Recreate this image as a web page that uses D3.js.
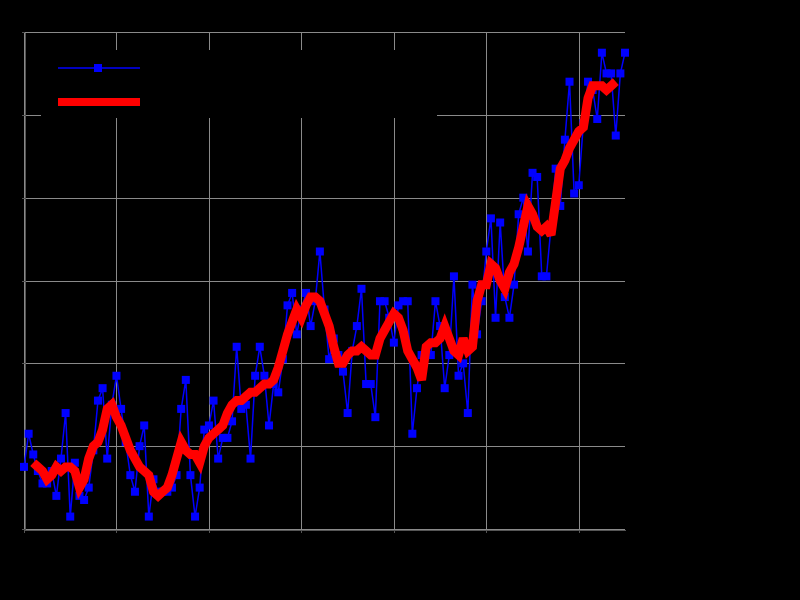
<!DOCTYPE html>
<html>
<head>
<meta charset="utf-8">
<script src="https://cdn.jsdelivr.net/npm/d3@7"></script>
<style>
  html, body { margin: 0; padding: 0; background: #000; }
  svg { display: block; }
</style>
</head>
<body>
<svg id="chart" width="800" height="600"></svg>
<script>
// ---- data ----
const years = [
  1880,1881,1882,1883,1884,1885,1886,1887,1888,1889,
  1890,1891,1892,1893,1894,1895,1896,1897,1898,1899,
  1900,1901,1902,1903,1904,1905,1906,1907,1908,1909,
  1910,1911,1912,1913,1914,1915,1916,1917,1918,1919,
  1920,1921,1922,1923,1924,1925,1926,1927,1928,1929,
  1930,1931,1932,1933,1934,1935,1936,1937,1938,1939,
  1940,1941,1942,1943,1944,1945,1946,1947,1948,1949,
  1950,1951,1952,1953,1954,1955,1956,1957,1958,1959,
  1960,1961,1962,1963,1964,1965,1966,1967,1968,1969,
  1970,1971,1972,1973,1974,1975,1976,1977,1978,1979,
  1980,1981,1982,1983,1984,1985,1986,1987,1988,1989,
  1990,1991,1992,1993,1994,1995,1996,1997,1998,1999,
  2000,2001,2002,2003,2004,2005,2006,2007,2008,2009,2010
];
const annualMean = [
  -0.25,-0.17,-0.22,-0.26,-0.29,-0.29,-0.26,-0.32,-0.23,-0.12,
  -0.37,-0.24,-0.32,-0.33,-0.30,-0.21,-0.09,-0.06,-0.23,-0.10,
  -0.03,-0.11,-0.19,-0.27,-0.31,-0.20,-0.15,-0.37,-0.28,-0.31,
  -0.31,-0.31,-0.30,-0.27,-0.11,-0.04,-0.27,-0.37,-0.30,-0.16,
  -0.15,-0.09,-0.23,-0.18,-0.18,-0.14,0.04,-0.11,-0.10,-0.23,
  -0.03,0.04,-0.03,-0.15,-0.05,-0.07,0.01,0.14,0.17,0.07,
  0.13,0.17,0.09,0.15,0.27,0.13,0.01,0.06,0.02,-0.02,
  -0.12,0.03,0.09,0.18,-0.05,-0.05,-0.13,0.15,0.15,0.11,
  0.05,0.14,0.15,0.15,-0.17,-0.06,0.02,0.03,0.02,0.15,
  0.09,-0.06,0.02,0.21,-0.03,0.00,-0.12,0.19,0.07,0.15,
  0.27,0.35,0.11,0.34,0.16,0.11,0.19,0.36,0.40,0.27,
  0.46,0.45,0.21,0.21,0.33,0.47,0.38,0.54,0.68,0.41,
  0.43,0.58,0.68,0.66,0.59,0.75,0.70,0.70,0.55,0.70,0.75
];
const runningYears = [
  1882,1883,1884,1885,1886,1887,1888,1889,
  1890,1891,1892,1893,1894,1895,1896,1897,1898,1899,
  1900,1901,1902,1903,1904,1905,1906,1907,1908,1909,
  1910,1911,1912,1913,1914,1915,1916,1917,1918,1919,
  1920,1921,1922,1923,1924,1925,1926,1927,1928,1929,
  1930,1931,1932,1933,1934,1935,1936,1937,1938,1939,
  1940,1941,1942,1943,1944,1945,1946,1947,1948,1949,
  1950,1951,1952,1953,1954,1955,1956,1957,1958,1959,
  1960,1961,1962,1963,1964,1965,1966,1967,1968,1969,
  1970,1971,1972,1973,1974,1975,1976,1977,1978,1979,
  1980,1981,1982,1983,1984,1985,1986,1987,1988,1989,
  1990,1991,1992,1993,1994,1995,1996,1997,1998,1999,
  2000,2001,2002,2003,2004,2005,2006,2007,2008
];
const runningMean = [
  -0.24,-0.25,-0.26,-0.28,-0.27,-0.25,-0.26,-0.25,
  -0.25,-0.26,-0.30,-0.28,-0.23,-0.20,-0.19,-0.16,-0.11,-0.10,
  -0.13,-0.15,-0.18,-0.21,-0.23,-0.25,-0.26,-0.27,-0.31,-0.32,
  -0.31,-0.30,-0.27,-0.23,-0.19,-0.21,-0.22,-0.22,-0.24,-0.20,
  -0.18,-0.17,-0.16,-0.15,-0.12,-0.10,-0.09,-0.09,-0.08,-0.07,
  -0.07,-0.06,-0.05,-0.05,-0.04,-0.01,0.03,0.07,0.10,0.13,
  0.11,0.14,0.16,0.16,0.15,0.12,0.09,0.04,0.00,0.00,
  0.02,0.03,0.03,0.04,0.03,0.02,0.02,0.06,0.08,0.10,
  0.12,0.11,0.08,0.03,0.01,-0.01,-0.04,0.04,0.05,0.05,
  0.06,0.09,0.06,0.03,0.02,0.06,0.03,0.04,0.15,0.19,
  0.19,0.24,0.23,0.20,0.18,0.22,0.24,0.28,0.33,0.38,
  0.36,0.33,0.32,0.33,0.31,0.39,0.47,0.49,0.52,0.54,
  0.56,0.57,0.64,0.67,0.67,0.67,0.66,0.67,0.68
];
const xTicks = [1880, 1900, 1920, 1940, 1960, 1980, 2000];
const yTicks = [-0.4, -0.2, 0.0, 0.2, 0.4, 0.6, 0.8];
const seriesNames = ["Annual Mean", "5-year Running Mean"];
const titleText = "Global Temperature Anomaly";
const xTitle = "Year";
const yTitle = "Temperature Anomaly (°C)";

// ---- chart ----
const svg = d3.select("#chart");
const W = 800, H = 600;
const margin = {left: 24, right: 175, top: 32, bottom: 71};

svg.append("rect").attr("width", W).attr("height", H).attr("fill", "#000");

const x = d3.scaleLinear().domain([1880, 2010]).range([margin.left, W - margin.right]);
const y = d3.scaleLinear().domain([-0.4, 0.8]).range([H - margin.bottom, margin.top]);

// grid
const grid = svg.append("g").attr("shape-rendering", "crispEdges");
grid.selectAll("line.v").data(xTicks).join("line")
  .attr("class", "v")
  .attr("x1", d => Math.round(x(d)) + 0.5).attr("x2", d => Math.round(x(d)) + 0.5)
  .attr("y1", y(0.8)).attr("y2", y(-0.4))
  .attr("stroke", "#8a8a8a").attr("stroke-width", 1);
grid.selectAll("line.h").data(yTicks).join("line")
  .attr("class", "h")
  .attr("y1", d => Math.round(y(d)) + 0.5).attr("y2", d => Math.round(y(d)) + 0.5)
  .attr("x1", x(1880)).attr("x2", x(2010))
  .attr("stroke", "#8a8a8a").attr("stroke-width", 1);

// axes (labels drawn in black, as in the reference)
const xAxis = svg.append("g")
  .attr("transform", `translate(0,${Math.round(y(-0.4)) + 0.5})`)
  .call(d3.axisBottom(x).tickValues(xTicks).tickFormat(d3.format("d")).tickSizeInner(3).tickSizeOuter(0));
const yAxis = svg.append("g")
  .attr("transform", `translate(${Math.round(x(1880)) + 0.5},0)`)
  .call(d3.axisLeft(y).tickValues(yTicks).tickFormat(d3.format(".1f")).tickSizeInner(3).tickSizeOuter(0).tickPadding(2));
[xAxis, yAxis].forEach(a => {
  a.selectAll("path, line").attr("stroke", "#555").attr("shape-rendering", "crispEdges");
  a.selectAll("text").attr("fill", "#000").attr("font-family", "Liberation Sans").attr("font-size", 12);
});
yAxis.selectAll("text").attr("font-size", 8);

svg.append("text").attr("x", (x(1880) + x(2010)) / 2).attr("y", 20)
  .attr("text-anchor", "middle").attr("fill", "#000")
  .attr("font-family", "Liberation Sans").attr("font-size", 14).text(titleText);
svg.append("text").attr("x", (x(1880) + x(2010)) / 2).attr("y", 565)
  .attr("text-anchor", "middle").attr("fill", "#000")
  .attr("font-family", "Liberation Sans").attr("font-size", 12).text(xTitle);
svg.append("text").attr("x", x(1880)).attr("y", 22)
  .attr("text-anchor", "start").attr("fill", "#000")
  .attr("font-family", "Liberation Sans").attr("font-size", 11).text(yTitle);

// annual mean line + markers
const annual = years.map((yr, i) => ({yr, v: annualMean[i]}));
const running = runningYears.map((yr, i) => ({yr, v: runningMean[i]}));

const line = d3.line().x(d => x(d.yr)).y(d => y(d.v));

svg.append("path").datum(annual)
  .attr("d", line).attr("fill", "none")
  .attr("stroke", "#0000ff").attr("stroke-width", 1.5);
const ms = 8;
svg.append("g").selectAll("rect").data(annual).join("rect")
  .attr("x", d => x(d.yr) - ms / 2).attr("y", d => y(d.v) - ms / 2)
  .attr("width", ms).attr("height", ms).attr("fill", "#0000ff");

// running mean
svg.append("path").datum(running)
  .attr("d", line).attr("fill", "none")
  .attr("stroke", "#ff0000").attr("stroke-width", 9)
  .attr("stroke-linejoin", "miter").attr("stroke-miterlimit", 3);

// legend
const lg = svg.append("g");
lg.append("rect").attr("x", 41).attr("y", 50).attr("width", 396).attr("height", 68).attr("fill", "#000");
lg.append("line").attr("x1", 58).attr("x2", 140).attr("y1", 68).attr("y2", 68)
  .attr("stroke", "#0000ff").attr("stroke-width", 1.5);
lg.append("rect").attr("x", 98 - ms / 2).attr("y", 68 - ms / 2).attr("width", ms).attr("height", ms).attr("fill", "#0000ff");
lg.append("line").attr("x1", 58).attr("x2", 140).attr("y1", 102).attr("y2", 102)
  .attr("stroke", "#ff0000").attr("stroke-width", 8);
lg.selectAll("text").data(seriesNames).join("text")
  .attr("x", 150).attr("y", (d, i) => 72 + i * 34)
  .attr("fill", "#000").attr("font-family", "Liberation Sans").attr("font-size", 13)
  .text(d => d);
</script>
</body>
</html>
